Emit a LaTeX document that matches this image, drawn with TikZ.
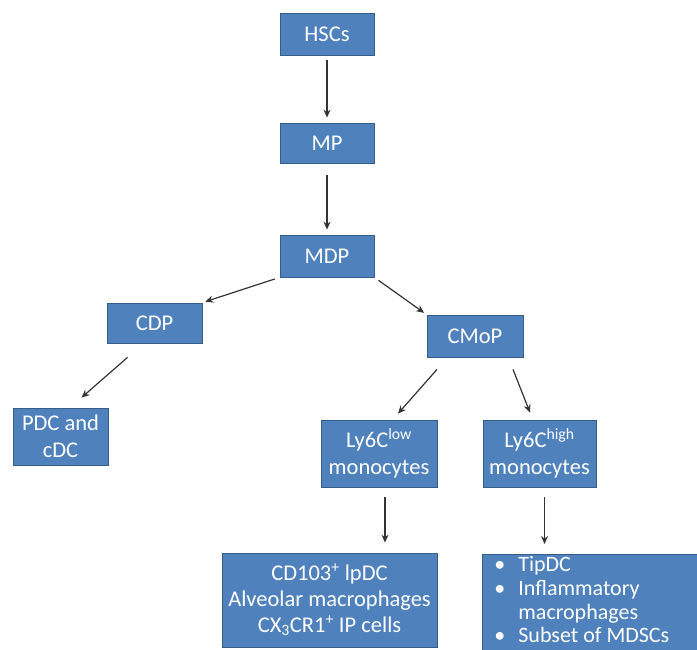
\documentclass[tikz,border=0pt]{standalone}
\usepackage{fontspec}
\setmainfont{Carlito}
\usetikzlibrary{arrows.meta}
\definecolor{cellblue}{RGB}{79,129,189}
\definecolor{cellrim}{RGB}{56,93,138}

\begin{document}
\begin{tikzpicture}[x=1pt,y=-1pt]

    \useasboundingbox (0,0) rectangle (697,649);

    \begin{scope}[every node/.style={rectangle,draw=cellrim,fill=cellblue,text=white,thick,inner sep=0pt,align=center,font=\fontsize{22.5}{27}\selectfont}]
        \node[minimum width=94pt,minimum height=42pt] (hsc) at (327,34) {HSCs};
        \node[minimum width=94pt,minimum height=40pt] (mp) at (327,143) {MP};
        \node[minimum width=94pt,minimum height=42pt] (mdp) at (327,256) {MDP};
        \node[minimum width=95pt,minimum height=40pt] (cdp) at (154.5,323) {CDP};
        \node[minimum width=96pt,minimum height=42pt] (cmop) at (475,336) {CMoP};
        \node[minimum width=95pt,minimum height=57pt] (pdc) at (60.5,436.5) {PDC and\\cDC}; % end of CDP branch %
        \node[minimum width=116pt,minimum height=67pt] (lylow) at (379,453.5) {Ly6C\textsuperscript{low}\\monocytes};
        \node[minimum width=113pt,minimum height=67pt] (lyhigh) at (539.5,453.5) {Ly6C\textsuperscript{high}\\monocytes};
        \node[minimum width=215pt,minimum height=94pt,font=\fontsize{22.5}{26}\selectfont] (lowcells) at (329.5,600) {CD103\textsuperscript{+} lpDC\\Alveolar macrophages\\CX\textsubscript{3}CR1\textsuperscript{+} IP cells};
        \node[anchor=north west,align=flush left,text width=225pt,inner xsep=12pt,inner ysep=2pt,font=\fontsize{22}{23.8}\selectfont] (highcells) at (482,554) {\makebox[24pt][l]{\textbullet}TipDC\\\makebox[24pt][l]{\textbullet}Inflammatory\\\hspace*{24pt}macrophages\\\makebox[24pt][l]{\textbullet}Subset of MDSCs\rule[-16pt]{0pt}{1pt}}; % runs off the page %
    \end{scope}

    \begin{scope}[every edge/.style={draw=black!80,line width=1.2pt,-{Stealth[length=8pt,width=7pt]}}]
        % main line %
        \path (hsc) edge [shorten <=5pt,shorten >=5pt] (mp);
        \path (mp) edge [shorten <=12pt,shorten >=5pt] (mdp);

        % MDP splits %
        \path (mdp.south west) edge [shorten <=5pt,shorten >=3pt] (cdp.north east);
        \path (mdp.south east) edge [shorten <=5pt,shorten >=3pt] (cmop.north west);
        \path ([xshift=-27pt,yshift=-14pt]cdp.south) edge ([xshift=21pt,yshift=10pt]pdc.north);

        % CMoP splits %
        \path ([xshift=-38pt,yshift=-12pt]cmop.south) edge ([xshift=19pt,yshift=6pt]lylow.north);
        \path ([xshift=38pt,yshift=-12pt]cmop.south) edge ([xshift=-9.5pt,yshift=7pt]lyhigh.north);

        \path ([xshift=6pt]lylow.south) edge [shorten <=10pt,shorten >=10pt] ([xshift=6pt]lylow.south |- lowcells.north);
        \path ([xshift=5pt]lyhigh.south) edge [shorten <=10pt,shorten >=10pt] ([xshift=5pt]lyhigh.south |- highcells.north);
    \end{scope}

\end{tikzpicture}
\end{document}
